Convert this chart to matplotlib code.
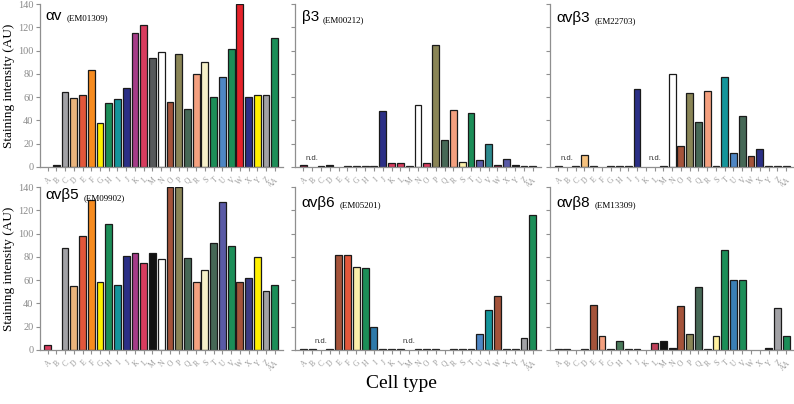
import matplotlib
matplotlib.use("Agg")
import matplotlib.pyplot as plt
import numpy as np

cells = ["A", "B", "C", "D", "E", "F", "G", "H", "I", "J", "K", "L", "M", "N",
         "O", "P", "Q", "R", "S", "T", "U", "V", "W", "X", "Y", "Z", "AA"]

# colour names used below
K_ = "#111111"; GR = "#a2a2a6"; TAN = "#eab47c"; RO = "#e2573b"; OR = "#f68b1f"
YE = "#fff000"; GN = "#1c8e58"; TE = "#14959b"; NV = "#2b2f86"; PU = "#a63c88"
CR = "#d83c5e"; DG = "#57595b"; WH = "#ffffff"; BR = "#a4533a"; OL = "#8a8556"
DS = "#466856"; SA = "#f4a07f"; CM = "#f6f1c9"; SB = "#4e86c4"; RE = "#e6232b"
SL = "#5a5aa6"; MR = "#7a1f3a"; CY = "#fbefaa"; BL = "#2e7aaa"

# staining intensity (AU) per cell type, 0 = no bar
av = [0, 2, 64, 59, 62, 83, 38, 55, 58, 68, 115, 122, 94, 99, 56, 97, 50, 80,
      90, 60, 77, 101, 140, 60, 62, 62, 111]
b3 = [2, 0, 1, 1.2, 0, 1, 0.5, 0.5, 0.5, 48, 3, 3.7, 1, 53, 3.5, 104.5, 23,
      49, 4.6, 46.5, 6, 20, 2, 7, 1.5, 0.8, 0.8]
avb3 = [1, 0, 0.5, 10.5, 0.5, 0, 0.4, 0.4, 0.4, 67, 0, 0, 0.4, 79.5, 18, 63.5,
        38.5, 65.5, 0.4, 77, 12, 44, 9, 15.5, 1, 0.4, 0.4]
avb5 = [4.5, 0, 88, 55, 98, 129, 58, 108, 56, 81, 83, 75, 83.5, 78.5, 140, 140,
        79, 58, 68.5, 91.5, 127.5, 89, 58, 62, 80, 51, 56]
avb6 = [0.8, 0.8, 0, 0.4, 82, 82, 71.5, 70, 20, 0.4, 0.4, 0.8, 0, 0.5, 0.4,
        0.4, 0, 0.4, 1, 0.4, 14, 34.5, 46.5, 0.4, 0.4, 10, 116]
avb8 = [0.6, 0.6, 0, 0.6, 39, 11.5, 0.6, 8, 0.6, 0.6, 0, 6, 8, 1.7, 38, 13.5,
        54, 0.6, 11.8, 86, 60, 60, 0, 0, 2, 36, 11.8]

av_col = [K_, K_, GR, TAN, RO, OR, YE, GN, TE, NV, PU, CR, DG, WH, BR, OL, DS,
          SA, CM, GN, SB, GN, RE, NV, YE, GR, GN]
b3_col = [MR, K_, K_, K_, K_, K_, K_, K_, K_, NV, CR, CR, K_, WH, CR, OL, DS,
          SA, CY, GN, SL, "#2c8a8e", MR, SL, K_, K_, K_]
avb3_col = [K_, K_, K_, "#f6c27e", K_, K_, K_, K_, K_, NV, K_, K_, K_, WH, BR,
            OL, DS, SA, K_, TE, SB, DS, BR, NV, K_, K_, K_]
avb5_col = [CR, K_, GR, TAN, RO, OR, YE, GN, TE, NV, PU, CR, K_, WH, BR, OL, DS,
            SA, CM, DS, SL, GN, BR, "#3b3b82", YE, GR, GN]
avb6_col = [K_, K_, K_, K_, BR, RO, CY, GN, BL, K_, K_, K_, K_, K_, K_, K_, K_,
            K_, K_, K_, SB, TE, BR, K_, K_, GR, GN]
avb8_col = [K_, K_, K_, K_, BR, SA, K_, "#4a7a5a", K_, K_, K_, "#c0405a", K_,
            K_, BR, OL, DS, K_, "#fff0a0", GN, "#3a7fb5", GN, K_, K_, K_, GR, GN]

panels = [
    ("\u03b1v", "(EM01309)", av, av_col, []),
    ("\u03b23", "(EM00212)", b3, b3_col, ["B"]),
    ("\u03b1v\u03b23", "(EM22703)", avb3, avb3_col, ["B", "L"]),
    ("\u03b1v\u03b25", "(EM09902)", avb5, avb5_col, []),
    ("\u03b1v\u03b26", "(EM05201)", avb6, avb6_col, ["C", "M"]),
    ("\u03b1v\u03b28", "(EM13309)", avb8, avb8_col, []),
]

fig = plt.figure(figsize=(7.94, 4.04), dpi=100)
lefts = [0.050, 0.372, 0.693]
widths = [0.306, 0.309, 0.307]
bottoms = [0.587, 0.134]
height = 0.403
title_y = [0.905, 0.895, 0.89, 0.925, 0.88, 0.88]
serif = "Liberation Serif"
spine_col = "#8f8f8f"

x = np.arange(len(cells))
for i, (name, code, vals, cols, nd) in enumerate(panels):
    r, c = divmod(i, 3)
    ax = fig.add_axes([lefts[c], bottoms[r], widths[c], height])
    v = np.array(vals, dtype=float)
    keep = v > 0
    ax.bar(x[keep], v[keep], width=0.78, color=np.array(cols)[keep],
           edgecolor="#1a1a1a", linewidth=0.9)
    ax.set_xlim(-0.9, 26.9)
    ax.set_ylim(0, 140)
    for s in ["top", "right"]:
        ax.spines[s].set_visible(False)
    for s in ["left", "bottom"]:
        ax.spines[s].set_color(spine_col)
        ax.spines[s].set_linewidth(0.9)
    ax.set_yticks(np.arange(0, 141, 20))
    ax.tick_params(axis="both", colors=spine_col, length=3, width=0.8)
    ax.tick_params(axis="y", pad=1.5)
    ax.set_xticks(x)
    ax.set_xticklabels(cells, rotation=45, ha="right", va="top",
                       rotation_mode="anchor", fontsize=5.5, color="#9a9a9a",
                       family=serif)
    if c == 0:
        ax.set_yticklabels([str(t) for t in range(0, 141, 20)], fontsize=7.5,
                           color="#8a8a8a", family=serif)
        ax.set_ylabel("Staining intensity (AU)", fontsize=9.5, family=serif)
        ax.yaxis.set_label_coords(-0.1, 0.5)
    else:
        ax.set_yticklabels([])
    for lab in nd:
        ax.text(cells.index(lab), 4, "n.d.", ha="center", va="bottom",
                fontsize=5.5, color="#333333", family="Liberation Sans")
    t = ax.text(0.025, title_y[i], name, transform=ax.transAxes, fontsize=11,
                family="Liberation Sans", va="baseline", ha="left")
    ax.annotate(code, xy=(1, 0), xycoords=t, xytext=(3, 0),
                textcoords="offset points", fontsize=6.5, family=serif,
                va="bottom", ha="left")

fig.text(0.505, 0.03, "Cell type", ha="center", va="bottom", fontsize=14,
         family=serif)

fig.savefig("out.png", dpi=100)
